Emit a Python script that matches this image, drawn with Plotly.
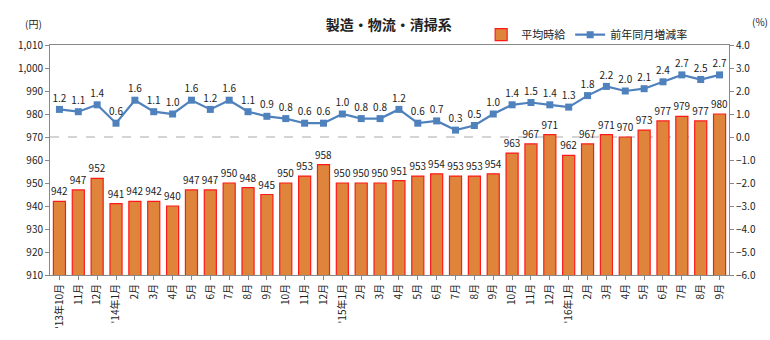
import plotly.graph_objects as go

labels = ["'13年10月", "11月", "12月", "'14年1月", "2月", "3月", "4月", "5月", "6月", "7月", "8月", "9月",
          "10月", "11月", "12月", "'15年1月", "2月", "3月", "4月", "5月", "6月", "7月", "8月", "9月",
          "10月", "11月", "12月", "'16年1月", "2月", "3月", "4月", "5月", "6月", "7月", "8月", "9月"]
wage = [942, 947, 952, 941, 942, 942, 940, 947, 947, 950, 948, 945,
        950, 953, 958, 950, 950, 950, 951, 953, 954, 953, 953, 954,
        963, 967, 971, 962, 967, 971, 970, 973, 977, 979, 977, 980]
yoy = [1.2, 1.1, 1.4, 0.6, 1.6, 1.1, 1.0, 1.6, 1.2, 1.6, 1.1, 0.9,
       0.8, 0.6, 0.6, 1.0, 0.8, 0.8, 1.2, 0.6, 0.7, 0.3, 0.5, 1.0,
       1.4, 1.5, 1.4, 1.3, 1.8, 2.2, 2.0, 2.1, 2.4, 2.7, 2.5, 2.7]
xs = list(range(len(labels)))

FONT = "Noto Sans CJK JP"

fig = go.Figure()
fig.add_trace(go.Bar(
    x=xs, y=wage, name="平均時給", width=0.64,
    marker=dict(color="#DE853B", line=dict(color="#FF1A1A", width=1.2)),
    text=[str(v) for v in wage], textposition="outside", constraintext="none",
    textfont=dict(size=10, color="#222", family=FONT), cliponaxis=False,
))
fig.add_trace(go.Scatter(
    x=xs, y=yoy, name="前年同月増減率", yaxis="y2",
    mode="lines+markers+text",
    line=dict(color="#4F81BD", width=2.2),
    marker=dict(symbol="square", size=7, color="#4F81BD"),
    text=[f"{v:.1f}" for v in yoy], textposition="top center",
    textfont=dict(size=10, color="#222", family=FONT), cliponaxis=False,
))

fig.add_shape(type="line", xref="paper", x0=0, x1=1, yref="y2", y0=0, y1=0,
              line=dict(color="#AAAAAA", width=1, dash="dash"), layer="below")

fig.update_layout(
    width=770, height=340,
    margin=dict(l=50, r=41, t=45, b=65),
    paper_bgcolor="white", plot_bgcolor="white",
    font=dict(family=FONT, size=11, color="#222"),
    title=dict(text="<b>製造・物流・清掃系</b>", x=0.505, xanchor="center", y=0.925, yanchor="middle",
               font=dict(size=14, color="#222", family=FONT)),
    showlegend=True,
    legend=dict(orientation="h", x=0.635, y=1.045, xanchor="left", yanchor="middle",
                font=dict(size=11, family=FONT), bgcolor="rgba(0,0,0,0)", itemwidth=30,
                traceorder="normal"),
    bargap=0.36,
    xaxis=dict(range=[-0.5, len(labels) - 0.5], tickmode="array", tickvals=xs, ticktext=labels,
               tickangle=-90, tickfont=dict(size=10), showline=True, linecolor="#888",
               mirror=True, ticks="outside", ticklen=4, tickcolor="#888", showgrid=False),
    yaxis=dict(range=[910, 1010], dtick=10, tickformat=",", showgrid=False, showline=True,
               linecolor="#888", ticks="outside", ticklen=4, tickcolor="#888",
               tickfont=dict(size=10), zeroline=False),
    yaxis2=dict(range=[-6, 4], dtick=1, tickformat=".1f", overlaying="y", side="right",
                showgrid=False, showline=True, linecolor="#888", ticks="outside", ticklen=4,
                tickcolor="#888", tickfont=dict(size=10), zeroline=False),
    annotations=[
        dict(text="(円)", xref="paper", yref="paper", x=-0.025, y=1.05, xanchor="center",
             yanchor="bottom", showarrow=False, font=dict(size=10)),
        dict(text="(%)", xref="paper", yref="paper", x=1.045, y=1.06, xanchor="center",
             yanchor="bottom", showarrow=False, font=dict(size=10)),
    ],
)

fig.write_html("out.html")
